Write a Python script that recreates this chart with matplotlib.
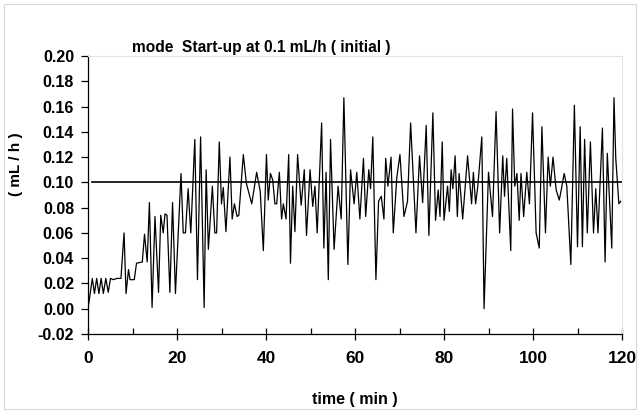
import matplotlib
matplotlib.use("Agg")
import matplotlib.pyplot as plt
from matplotlib.patches import Rectangle

plt.rcParams['font.family'] = ['Liberation Sans', 'DejaVu Sans']

# time (min) and flow (mL/h)
time_min = [0, 0.97, 1.45, 1.95, 2.45, 2.95, 3.45, 4.0, 4.55, 5.05, 5.7, 6.5, 7.4,
            8.1, 8.55, 9.1, 9.45, 10.4, 10.9, 12.2, 12.7, 13.3, 13.8, 14.4, 15.05,
            15.85, 16.35, 16.9, 17.3, 17.75, 18.4, 19.0, 19.65, 20.9, 21.4, 21.9,
            22.5, 23.1, 24.0, 24.6, 25.3, 26.1, 26.55, 27.05, 27.95, 28.5, 28.9,
            29.5, 30.0, 30.4, 31.0, 31.9, 32.4, 32.9, 33.5, 33.9, 34.9, 35.6, 36.8,
            37.9, 38.7, 39.4, 40.1, 40.5, 41.0, 41.5, 42.0, 42.4, 43.0, 43.5, 43.9,
            44.5, 45.1, 45.5, 46.0, 46.5, 47.1, 47.9, 48.6, 49.1, 49.9, 50.5, 51.0,
            51.5, 52.5, 53.0, 53.5, 54.0, 54.5, 55.3, 56.2, 56.9, 57.5, 58.4, 59.0,
            59.8, 60.4, 61.1, 61.9, 62.4, 63.1, 63.5, 64.0, 64.7, 65.3, 65.9, 66.5,
            66.9, 67.4, 68.1, 68.6, 69.4, 70.1, 71.0, 71.8, 72.5, 73.7, 74.5, 75.2,
            76.0, 76.6, 77.5, 78.1, 78.7, 79.1, 79.6, 80.0, 80.8, 81.2, 81.6, 82.0,
            82.5, 83.0, 83.4, 84.2, 85.3, 86.2, 86.6, 87.1, 87.6, 88.5, 89.0, 90.0,
            90.9, 91.7, 92.5, 93.2, 93.6, 94.1, 95.0, 95.4, 95.9, 96.4, 96.9, 97.3,
            97.9, 98.6, 99.2, 99.9, 100.7, 101.4, 102.0, 102.8, 103.4, 103.9, 104.5,
            105.2, 105.9, 106.4, 107.0, 107.6, 108.5, 109.3, 110.0, 110.6, 111.1,
            111.6, 112.2, 112.9, 113.6, 114.1, 114.6, 115.6, 116.2, 116.7, 117.7,
            118.2, 118.6, 119.3, 119.7]
flow = [0.000, 0.024, 0.012, 0.024, 0.012, 0.024, 0.012, 0.024, 0.013, 0.024, 0.023,
        0.024, 0.024, 0.060, 0.012, 0.031, 0.023, 0.023, 0.036, 0.037, 0.059, 0.037,
        0.084, 0.001, 0.073, 0.013, 0.074, 0.060, 0.075, 0.074, 0.013, 0.084, 0.012,
        0.107, 0.060, 0.060, 0.095, 0.060, 0.134, 0.023, 0.136, 0.001, 0.110, 0.047,
        0.097, 0.060, 0.060, 0.132, 0.083, 0.096, 0.061, 0.120, 0.071, 0.083, 0.073,
        0.074, 0.122, 0.099, 0.083, 0.108, 0.093, 0.046, 0.122, 0.086, 0.107, 0.102,
        0.083, 0.083, 0.108, 0.071, 0.083, 0.071, 0.122, 0.036, 0.097, 0.061, 0.122,
        0.082, 0.110, 0.058, 0.110, 0.081, 0.097, 0.060, 0.147, 0.048, 0.108, 0.023,
        0.134, 0.047, 0.097, 0.071, 0.167, 0.035, 0.110, 0.083, 0.108, 0.071, 0.119,
        0.073, 0.110, 0.095, 0.136, 0.023, 0.085, 0.089, 0.071, 0.119, 0.097, 0.120,
        0.060, 0.104, 0.122, 0.073, 0.085, 0.147, 0.060, 0.121, 0.084, 0.145, 0.058,
        0.155, 0.070, 0.094, 0.073, 0.132, 0.070, 0.097, 0.077, 0.110, 0.095, 0.121,
        0.073, 0.107, 0.071, 0.121, 0.083, 0.108, 0.083, 0.097, 0.136, 0.000, 0.108,
        0.073, 0.156, 0.060, 0.121, 0.089, 0.119, 0.046, 0.158, 0.097, 0.107, 0.070,
        0.107, 0.073, 0.108, 0.083, 0.155, 0.060, 0.048, 0.144, 0.060, 0.120, 0.097,
        0.120, 0.094, 0.086, 0.095, 0.107, 0.097, 0.035, 0.161, 0.049, 0.144, 0.049,
        0.134, 0.060, 0.132, 0.060, 0.095, 0.060, 0.143, 0.037, 0.123, 0.048, 0.167,
        0.119, 0.083, 0.085]

setpoint_t = [1, 120]
setpoint = [0.1, 0.1]

fig = plt.figure(figsize=(6.41, 4.13), dpi=100)
ax = fig.add_axes([88/641, 1 - 334/413, 534/641, 278/413])

ax.plot(time_min, flow, color='black', lw=0.9)
ax.plot(setpoint_t, setpoint, color='black', lw=1.2)

ax.set_xlim(0, 120)
ax.set_ylim(-0.02, 0.20)
ax.set_xticks(range(0, 121, 20))
ax.set_xticks(range(10, 120, 20), minor=True)
ax.set_yticks([i / 100 for i in range(-2, 21, 2)])
ax.set_yticklabels(['%.2f' % (i / 100) for i in range(-2, 21, 2)])

ax.tick_params(axis='x', which='major', direction='inout', length=8, width=0.9,
               labelsize=12.5, pad=8)
ax.tick_params(axis='x', which='minor', direction='in', length=4, width=0.9)
ax.tick_params(axis='y', direction='out', length=5, width=0.9, labelsize=11.5, pad=5)
for lab in ax.get_xticklabels() + ax.get_yticklabels():
    lab.set_fontweight('bold')

for s in ['left', 'bottom']:
    ax.spines[s].set_linewidth(0.9)
for s in ['top', 'right']:
    ax.spines[s].set_color('#e4e4e4')
    ax.spines[s].set_linewidth(0.8)

ax.set_xlabel('time ( min )', fontsize=11.5, fontweight='bold')
ax.xaxis.set_label_coords(0.5, -0.21)
ax.set_ylabel('( mL / h )', fontsize=11, fontweight='bold')
ax.yaxis.set_label_coords(-0.122, 0.61)

fig.text(132/641, 1 - 47.5/413, 'mode  Start-up at 0.1 mL/h ( initial )',
         fontsize=11.2, fontweight='bold', ha='left', va='center')

fig.patches.append(Rectangle((4/641, 4/413), 632/641, 405/413, transform=fig.transFigure,
                             fill=False, edgecolor='#d8d8d8', lw=0.8))

fig.savefig('out.png', dpi=100)
